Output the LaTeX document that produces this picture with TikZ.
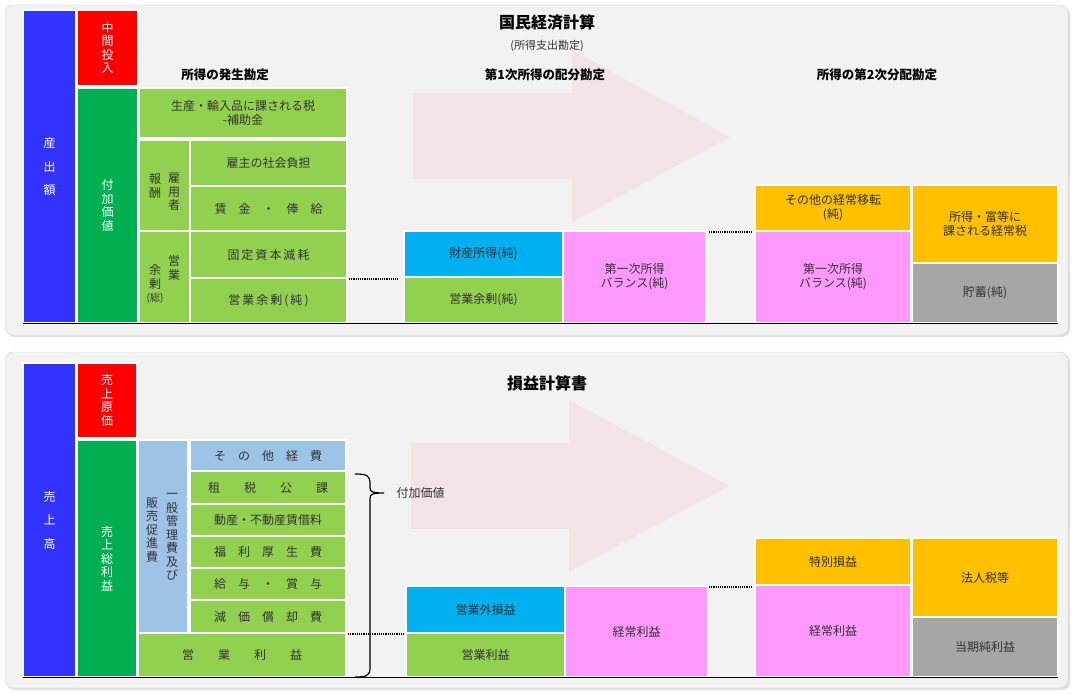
\documentclass[tikz,border=0pt]{standalone}
\usepackage{fontspec}
\setmainfont{Noto Sans CJK JP}
\usetikzlibrary{shadows}
\definecolor{cblue}{HTML}{3333FF}
\definecolor{cred}{HTML}{FF0000}
\definecolor{cdg}{HTML}{00B050}
\definecolor{clg}{HTML}{92D050}
\definecolor{ccy}{HTML}{00B0F0}
\definecolor{cpk}{HTML}{FF99FF}
\definecolor{cyl}{HTML}{FFC000}
\definecolor{cgy}{HTML}{A6A6A6}
\definecolor{clb}{HTML}{9DC3E6}
\definecolor{carr}{HTML}{F2E4E4}
\definecolor{txt}{HTML}{333333}
\newcommand\bx[7]{\draw[fill=#6,draw=white,line width=1.2pt] (#2,#3) rectangle (#4,#5) node[midway,align=center,text=txt] (#1) {#7};}
\newcommand\bxw[7]{\draw[fill=#6,draw=white,line width=1.2pt] (#2,#3) rectangle (#4,#5) node[midway,align=center,text=white] (#1) {#7};}
\begin{document}
\begin{tikzpicture}[x=1pt,y=-1pt,font=\fontsize{12}{14}\selectfont,
  panel/.style={fill=black!5,draw=black!15,rounded corners=8pt,drop shadow={opacity=0.25,shadow xshift=2pt,shadow yshift=-2pt}},
  hdr/.style={font=\fontsize{12.5}{14}\selectfont\bfseries,text=black},
  dots/.style={densely dotted,line width=1.2pt},
  vt/.style={align=center,font=\fontsize{12}{13.5}\selectfont,inner sep=0pt}]
\useasboundingbox[fill=white] (0,0) rectangle (1075,693);
\path[panel] (5,5) rectangle (1068,335);
\path[panel] (5,352) rectangle (1068,688);
% arrows
\fill[carr] (413,93) -- (572,93) -- (572,50) -- (730,137) -- (572,222) -- (572,179) -- (413,179) -- cycle;
\fill[carr] (411,443) -- (569,443) -- (569,400) -- (729,486) -- (569,572) -- (569,529) -- (411,529) -- cycle;
% titles
\node[font=\fontsize{16}{18}\selectfont\bfseries] (t1) at (547,22) {国民経済計算};
\node[text=txt,font=\fontsize{11}{13}\selectfont] (t1b) at (547,46) {(所得支出勘定)};
\node[hdr] (h1) at (225,75) {所得の発生勘定};
\node[hdr] (h2) at (545,75) {第1次所得の配分勘定};
\node[hdr] (h3) at (877,75) {所得の第2次分配勘定};
\node[font=\fontsize{16}{18}\selectfont\bfseries] (t2) at (547,383) {損益計算書};
% top panel
\bxw{a1}{23}{10}{76}{323}{cblue}{}
\node[vt,text=white] at (a1) {産\\[10pt]出\\[10pt]額};
\bxw{a2}{77}{10}{138}{86}{cred}{}
\node[vt,text=white] at (a2) {中\\間\\投\\入};
\bxw{a3}{77}{88}{138}{323}{cdg}{}
\node[vt,text=white] at (a3) {付\\加\\価\\値};
\bx{a4}{139}{88}{347}{138}{clg}{生産・輸入品に課される税\\-補助金}
\bx{a5}{139}{140}{190}{231}{clg}{}
\node[vt,text=txt] at (155,186) {報\\酬};
\node[vt,text=txt] at (174,192) {雇\\用\\者};
\bx{a6}{190}{140}{347}{186}{clg}{雇主の社会負担}
\bx{a7}{190}{186}{347}{231}{clg}{賃\quad 金\quad ・\quad 俸\quad 給}
\bx{a8}{139}{231}{190}{323}{clg}{}
\node[vt,text=txt] at (174,268) {営\\業};
\node[vt,text=txt] at (155,284) {余\\剰\\{\fontsize{10}{11}\selectfont(総)}};
\bx{a9}{190}{231}{347}{278}{clg}{固\,定\,資\,本\,減\,耗}
\bx{a10}{190}{278}{347}{323}{clg}{営\,業\,余\,剰\,(\,純\,)}
\bx{b1}{404}{231}{563}{277}{ccy}{財産所得(純)}
\bx{b2}{404}{277}{563}{323}{clg}{営業余剰(純)}
\bx{b3}{563}{231}{706}{323}{cpk}{第一次所得\\バランス(純)}
\bx{c1}{755}{185}{911}{231}{cyl}{その他の経常移転\\(純)}
\bx{c2}{755}{231}{911}{323}{cpk}{第一次所得\\バランス(純)}
\bx{c3}{912}{185}{1058}{263}{cyl}{所得・富等に\\課される経常税}
\bx{c4}{912}{263}{1058}{323}{cgy}{貯蓄(純)}
\coordinate (d1) at (349,279); \coordinate (d2) at (398,279);
\draw[dots] (d1) -- (d2);
\coordinate (d3) at (709,232); \coordinate (d4) at (752,232);
\draw[dots] (d3) -- (d4);
\coordinate (l1) at (23,323.5); \coordinate (l2) at (1058,323.5);
\draw[line width=1.2pt] (l1) -- (l2);
% bottom panel
\bxw{p1}{23}{363}{76}{677}{cblue}{}
\node[vt,text=white] at (p1) {売\\[10pt]上\\[10pt]高};
\bxw{p2}{77}{363}{137}{438}{cred}{}
\node[vt,text=white] at (p2) {売\\上\\原\\価};
\bxw{p3}{77}{440}{137}{677}{cdg}{}
\node[vt,text=white] at (p3) {売\\上\\総\\利\\益};
\bx{p4}{138}{440}{188}{633}{clb}{}
\node[vt,text=txt] at (172,537) {一\\般\\管\\理\\費\\及\\び};
\node[vt,text=txt] at (152,530) {販\\売\\促\\進\\費};
\bx{p5}{190}{440}{346}{471}{clb}{そ\quad の\quad 他\quad 経\quad 費}
\bx{p6}{190}{471}{346}{504}{clg}{租\qquad 税\qquad 公\qquad 課}
\bx{p7}{190}{504}{346}{536}{clg}{動産・不動産賃借料}
\bx{p8}{190}{536}{346}{568}{clg}{福\quad 利\quad 厚\quad 生\quad 費}
\bx{p9}{190}{568}{346}{600}{clg}{給\quad 与\quad ・\quad 賞\quad 与}
\bx{p10}{190}{600}{346}{633}{clg}{減\quad 価\quad 償\quad 却\quad 費}
\bx{p11}{138}{633}{346}{677}{clg}{営\qquad 業\qquad 利\qquad 益}
\bx{q1}{406}{586}{565}{633}{ccy}{営業外損益}
\bx{q2}{406}{633}{565}{677}{clg}{営業利益}
\bx{q3}{565}{586}{708}{677}{cpk}{経常利益}
\bx{r1}{755}{538}{911}{585}{cyl}{特別損益}
\bx{r2}{755}{585}{911}{677}{cpk}{経常利益}
\bx{r3}{912}{538}{1058}{617}{cyl}{法人税等}
\bx{r4}{912}{617}{1058}{677}{cgy}{当期純利益}
\node[text=txt,anchor=west] (fv) at (393,493) {付加価値};
\coordinate (br1) at (355,474); \coordinate (br2) at (355,677);
\draw[line width=1.2pt] (br1) .. controls (368,474) and (370,476) .. (370,484) -- (370,488) .. controls (370,492) and (373,493) .. (384,493)
  (384,493) .. controls (373,493) and (370,494) .. (370,498) -- (370,668) .. controls (370,676) and (366,677) .. (br2);
\coordinate (e1) at (348,634); \coordinate (e2) at (405,634);
\draw[dots] (e1) -- (e2);
\coordinate (e3) at (709,587); \coordinate (e4) at (752,587);
\draw[dots] (e3) -- (e4);
\coordinate (m1) at (23,677.5); \coordinate (m2) at (1058,677.5);
\draw[line width=1.2pt] (m1) -- (m2);
\end{tikzpicture}
\end{document}
